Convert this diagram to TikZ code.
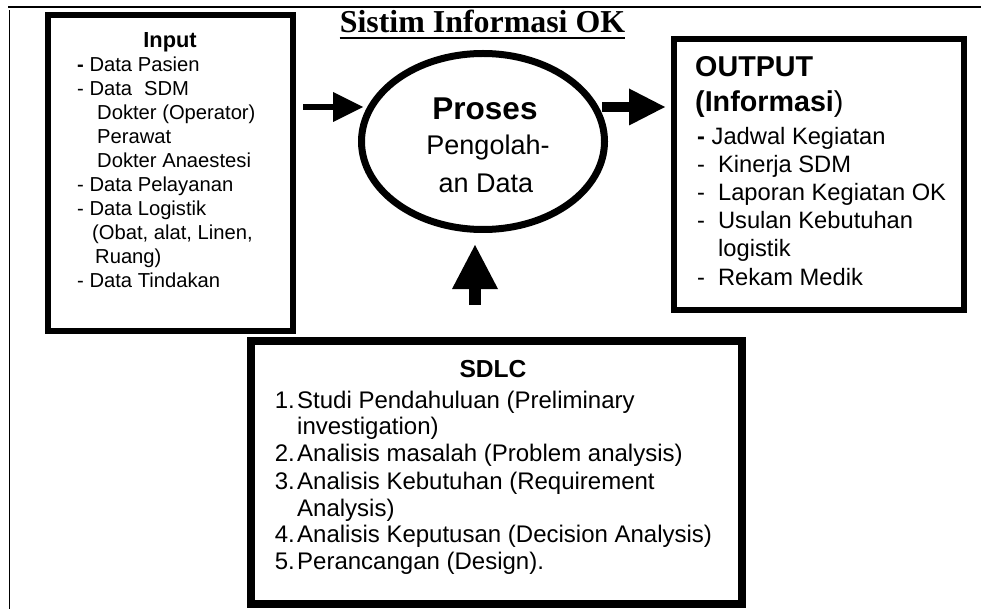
\documentclass[tikz,border=0pt]{standalone}
\usepackage{fontspec}
\setmainfont{Liberation Sans}
\newfontfamily\ttlfamily{Liberation Serif}
\usetikzlibrary{arrows.meta,shapes.geometric}

\begin{document}
\begin{tikzpicture}[x=1pt, y=-1pt,
    thinline/.style={line width=1.5pt},
    panel/.style={draw, rectangle, inner sep=0pt},
    txt/.style={anchor=base west, inner sep=0pt},
    ctxt/.style={anchor=base, inner sep=0pt},
    flow/.style={line width=#1}]
  \useasboundingbox (0,0) rectangle (981,609);

  % Frame
  \draw[thinline] (8,7) -- (981,7);
  \draw[thinline] (9.5,10) -- (9.5,609);

  % Title
  \node[ctxt, font=\ttlfamily\bfseries\fontsize{31.9}{36}\selectfont] (title) at (482.5,33) {Sistim Informasi OK};
  \draw[thinline] ([yshift=-5pt]title.base west) -- ([yshift=-5pt]title.base east);

  % Boxes
  \node[panel, line width=6pt, minimum width=245, minimum height=316] (in) at (170.5,173) {};
  \node[panel, line width=6pt, minimum width=290, minimum height=271] (out) at (819,174.5) {};
  \node[panel, line width=8pt, minimum width=491, minimum height=263] (sdlc) at (496.5,472.5) {};
  \node[draw, ellipse, line width=7pt, minimum width=243, minimum height=176, inner sep=0pt] (proc) at (483,141.5) {};

  % Input
  \node[ctxt, font=\bfseries\fontsize{21.8}{26}\selectfont] (in-head) at (170,47.7) {Input};
  \foreach \x/\y/\lbl [count=\i] in {
      77/71.7/{\textbf{-} Data Pasien},
      77/95.7/{- Data\hspace{12pt}SDM},
      97/119.7/{Dokter (Operator)},
      97/143.7/{Perawat},
      97/167.7/{Dokter Anaestesi},
      77/191.7/{- Data Pelayanan},
      77/215.7/{- Data Logistik},
      92/239.7/{(Obat, alat, Linen,},
      95/263.7/{Ruang)},
      77/287.7/{- Data Tindakan}} {
    \node[txt, font=\fontsize{20.2}{24}\selectfont] (in-\i) at (\x,\y) {\lbl};
  }

  % Proses
  \node[ctxt, font=\bfseries\fontsize{31.5}{36}\selectfont] (proc-head) at (485,120) {Proses};
  \node[ctxt, font=\fontsize{27}{32}\selectfont] (proc-1) at (488,155) {Pengolah-};
  \node[ctxt, font=\fontsize{27}{32}\selectfont] (proc-2) at (486,193) {an Data};

  % Output
  \node[txt, font=\bfseries\fontsize{28.7}{34}\selectfont] (out-head) at (695,77) {OUTPUT};
  \node[txt, font=\fontsize{28.7}{34}\selectfont] (out-sub) at (695,112) {\textbf{(Informasi})};
  \foreach \x/\y/\lbl [count=\i] in {
      697/145/{\textbf{-} Jadwal Kegiatan},
      697/173/{-\hspace{13pt}Kinerja SDM},
      697/201/{-\hspace{13pt}Laporan Kegiatan OK},
      697/229/{-\hspace{13pt}Usulan Kebutuhan},
      718/257/{logistik},
      697/285/{-\hspace{13pt}Rekam Medik}} {
    \node[txt, font=\fontsize{23.7}{28}\selectfont] (out-\i) at (\x,\y) {\lbl};
  }

  % SDLC
  \node[ctxt, font=\bfseries\fontsize{24.6}{29}\selectfont] (sdlc-head) at (493,377) {SDLC};
  \foreach \n/\y/\lbl [count=\i] in {
      1./408/{Studi Pendahuluan (Preliminary},
      /434/{investigation)},
      2./461/{Analisis masalah (Problem analysis)},
      3./489/{Analisis Kebutuhan (Requirement},
      /516/{Analysis)},
      4./542/{Analisis Keputusan (Decision Analysis)},
      5./569/{Perancangan (Design).}} {
    \node[txt, font=\fontsize{24}{28}\selectfont] (sdlc-\i) at (297,\y) {\lbl};
    \node[anchor=base east, inner sep=0pt, font=\fontsize{24}{28}\selectfont] (sdlc-n\i) at (295,\y) {\n};
  }

  % Arrows
  \coordinate (pin) at (363,107);
  \coordinate (pout) at (602,107);
  \coordinate (pup) at (475,245);
  \draw[flow=6pt, -{Triangle[length=30pt, width=30pt, line width=0pt]}, shorten <=7pt] (in.east |- pin) -- (pin);
  \draw[flow=10pt, -{Triangle[length=36pt, width=37pt, line width=0pt]}, shorten >=6pt] (pout) -- (out.west |- pout);
  \draw[flow=12pt, -{Triangle[length=44pt, width=46pt, line width=0pt]}, shorten <=32pt] (sdlc.north -| pup) -- (pup);
\end{tikzpicture}
\end{document}
